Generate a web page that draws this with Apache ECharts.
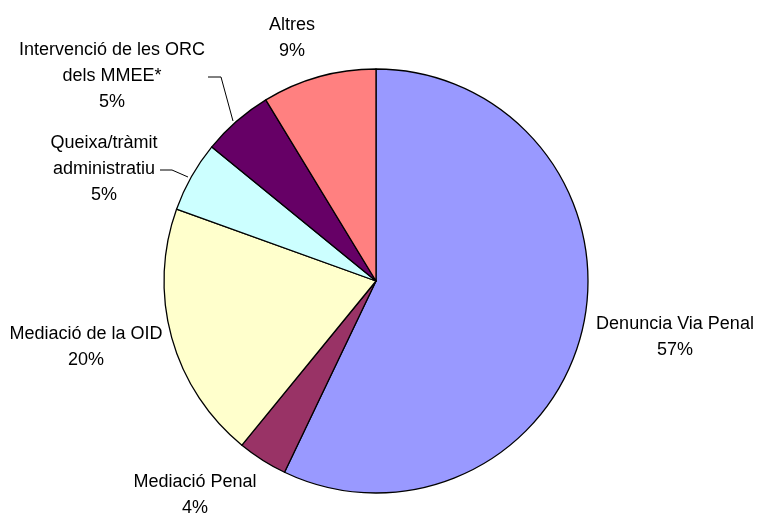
<!DOCTYPE html>
<html>
<head>
<meta charset="utf-8">
<script src="https://cdn.jsdelivr.net/npm/echarts@6/dist/echarts.min.js"></script>
<style>
html,body{margin:0;padding:0;background:#fff;}
#chart{width:759px;height:514px;}
</style>
</head>
<body>
<div id="chart"></div>
<script>
// Data
var categories = ['Denuncia Via Penal', 'Mediació Penal', 'Mediació de la OID', 'Queixa/tràmit\nadministratiu', 'Intervenció de les ORC\ndels MMEE*', 'Altres'];
var values = [57.1, 3.8, 19.6, 5.4, 5.4, 8.7];
var colors = ['#9999FF', '#993366', '#FFFFCC', '#CCFFFF', '#660066', '#FF8080'];

// Label layout (text block centres) and leader lines
var labelPos = [[675, 337], [195, 495], [86, 347], [104, 169], [112, 76], [292, 38]];
var leaderLines = {
  3: [[160, 170], [172, 170], [188, 177]],
  4: [[208, 77], [221, 77], [233, 121]]
};

var chart = echarts.init(document.getElementById('chart'), null, {renderer: 'canvas'});
var data = categories.map(function (c, i) {
  return {
    name: c,
    value: values[i],
    itemStyle: {color: colors[i]},
    labelLine: {show: !!leaderLines[i], lineStyle: {color: '#000', width: 1}}
  };
});
chart.setOption({
  animation: false,
  backgroundColor: '#fff',
  series: [{
    type: 'pie',
    center: [376, 281],
    radius: 212,
    startAngle: 90,
    clockwise: true,
    avoidLabelOverlap: false,
    emphasis: {disabled: true},
    itemStyle: {borderColor: '#000', borderWidth: 1.3},
    label: {
      show: true,
      position: 'outside',
      color: '#000',
      fontFamily: 'Liberation Sans, Arial, sans-serif',
      fontSize: 18,
      lineHeight: 26,
      align: 'center',
      formatter: function (p) { return p.name + '\n' + Math.round(p.percent) + '%'; }
    },
    labelLine: {show: true, length: 10, length2: 10, smooth: false},
    labelLayout: function (params) {
      var i = params.dataIndex;
      var r = {x: labelPos[i][0], y: labelPos[i][1], align: 'center', verticalAlign: 'middle'};
      if (leaderLines[i]) r.labelLinePoints = leaderLines[i];
      return r;
    },
    data: data
  }]
});
</script>
</body>
</html>
